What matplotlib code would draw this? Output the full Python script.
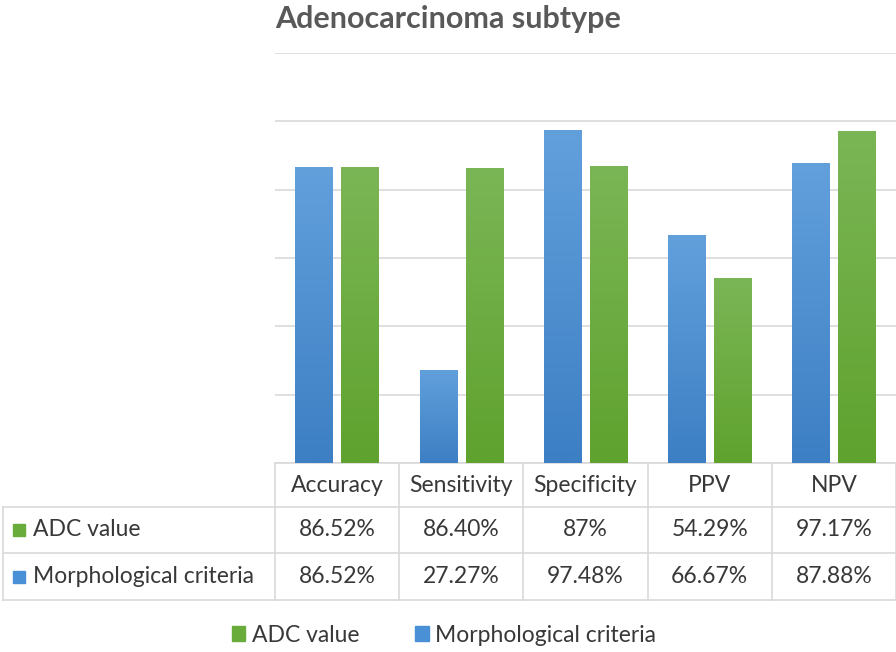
import numpy as np
import matplotlib
matplotlib.use("Agg")
import matplotlib.pyplot as plt
from matplotlib.colors import LinearSegmentedColormap
from matplotlib.patches import Rectangle

plt.rcParams['font.family'] = ['Lato', 'DejaVu Sans']

categories = ['Accuracy', 'Sensitivity', 'Specificity', 'PPV', 'NPV']
adc = [86.52, 86.40, 87, 54.29, 97.17]
morph = [86.52, 27.27, 97.48, 66.67, 87.88]
adc_txt = ['86.52%', '86.40%', '87%', '54.29%', '97.17%']
morph_txt = ['86.52%', '27.27%', '97.48%', '66.67%', '87.88%']
series_names = ['ADC value', 'Morphological criteria']

blue = '#4a90d6'
green = '#6aac3c'
blue_grad = LinearSegmentedColormap.from_list('b', ['#3d7fc4', '#62a0dc'])
green_grad = LinearSegmentedColormap.from_list('g', ['#5fa22e', '#7bb656'])
grid_c = '#d9d9d9'
txt_c = '#383838'

W, H = 896, 652
fig = plt.figure(figsize=(W / 100, H / 100), dpi=100)
ax = fig.add_axes([275 / W, (H - 463) / H, (W - 275) / W, (463 - 53) / H])

x = np.arange(len(categories))
bw = 0.3
gap = 0.035
b1 = ax.bar(x - bw / 2 - gap, morph, bw, color=blue, zorder=2)
b2 = ax.bar(x + bw / 2 + gap, adc, bw, color=green, zorder=2)

# vertical gradient inside bars
grad = np.linspace(0, 1, 256).reshape(-1, 1)
for bars, cmap in ((b1, blue_grad), (b2, green_grad)):
    for r in bars:
        x0, y0 = r.get_x(), r.get_y()
        im = ax.imshow(grad, cmap=cmap, origin='lower', aspect='auto',
                       extent=(x0, x0 + r.get_width(), y0, y0 + r.get_height()),
                       zorder=3)
        im.set_clip_path(r)

ax.set_xlim(-0.5, len(categories) - 0.5)
ax.set_ylim(0, 120)
ax.set_yticks(np.arange(0, 121, 20))
ax.yaxis.grid(True, color=grid_c, lw=1.2, zorder=0)
ax.tick_params(left=False, bottom=False, labelleft=False, labelbottom=False)
for s in ax.spines.values():
    s.set_visible(False)

fig.text(275 / W, 1 - 19 / H, 'Adenocarcinoma subtype', fontsize=22,
         fontweight='bold', color='#595959', va='center', ha='left')

# data table below the axis
tr = ax.get_xaxis_transform()
px = 1 / (463 - 53)                      # axes fraction per pixel (vertical)
dx = len(categories) / (W - 275)         # data units per pixel (horizontal)
row_y = [0, -44 * px, -90 * px, -137 * px]
left = -0.5 - (275 - 3) * dx
right = len(categories) - 0.5
lkw = dict(color=grid_c, lw=1.2, transform=tr, clip_on=False)
ax.plot([-0.5, right], [row_y[0]] * 2, **lkw)
for yy in row_y[1:]:
    ax.plot([left, right], [yy] * 2, **lkw)
for i in range(len(categories) + 1):
    ax.plot([i - 0.5] * 2, [row_y[0], row_y[3]], **lkw)
ax.plot([left] * 2, [row_y[1], row_y[3]], **lkw)

fs = 16.5
mid = [(row_y[k] + row_y[k + 1]) / 2 for k in range(3)]
for i, c in enumerate(categories):
    ax.text(i, mid[0], c, transform=tr, ha='center', va='center', fontsize=fs, color=txt_c)
    ax.text(i, mid[1], adc_txt[i], transform=tr, ha='center', va='center', fontsize=fs, color=txt_c)
    ax.text(i, mid[2], morph_txt[i], transform=tr, ha='center', va='center', fontsize=fs, color=txt_c)

for k, (name, col) in enumerate(zip(series_names, [green, blue])):
    ax.add_patch(Rectangle((left + 10 * dx, mid[k + 1] - 6 * px), 12 * dx, 12 * px,
                           transform=tr, color=col, clip_on=False))
    ax.text(left + 30 * dx, mid[k + 1], name, transform=tr, ha='left', va='center',
            fontsize=fs, color=txt_c)

# legend at bottom
handles = [Rectangle((0, 0), 1, 1, color=green), Rectangle((0, 0), 1, 1, color=blue)]
fig.legend(handles, series_names, loc='center', bbox_to_anchor=(444 / W, 1 - 635 / H),
           ncol=2, frameon=False, fontsize=fs, handlelength=0.6, handleheight=0.6,
           handletextpad=0.3, columnspacing=2.4, labelcolor=txt_c)

fig.savefig('out.png', dpi=100)
